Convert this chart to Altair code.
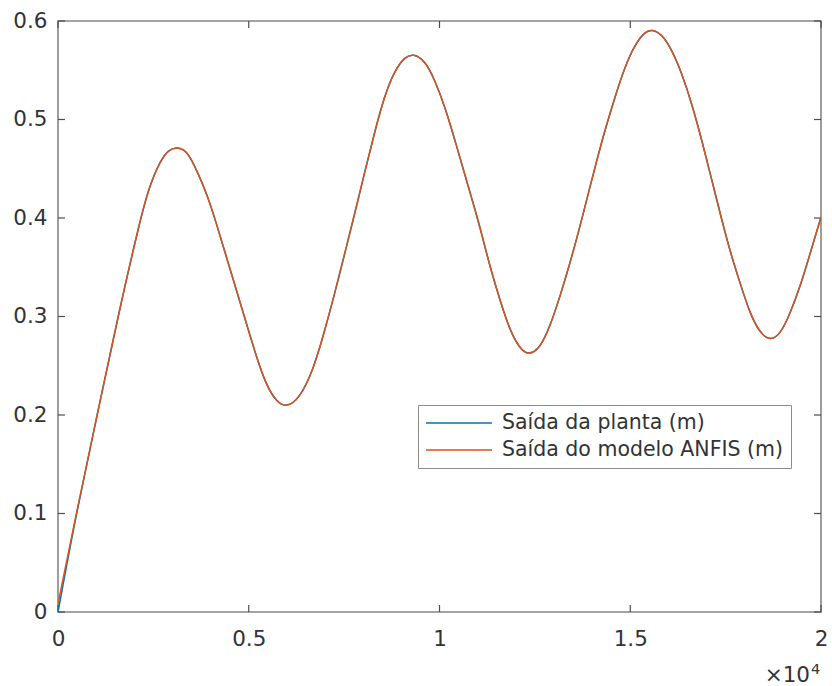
import altair as alt
import pandas as pd

# ---- data ----
t_vals = [0, 477, 1028, 1570, 2164, 2400, 2700, 2900, 3101, 3300, 3451, 3888,
          4150, 4413, 4675, 4937, 5200, 5462, 5725, 5987, 6336, 6686, 6948,
          7255, 7517, 7780, 8042, 8304, 8567, 8829, 9091, 9309, 9616, 9878,
          10141, 10403, 10665, 10862, 11059, 11321, 11583, 11846, 12108, 12327, 12632,
          12895, 13157, 13419, 13682, 13944, 14188, 14338, 14601, 14863, 15125,
          15388, 15563, 15825, 16088, 16350, 16612, 16875, 17137, 17399, 17617,
          17880, 18142, 18404, 18667, 18929, 19191, 19454, 19716, 19978, 20000]
planta = [0.000, 0.100, 0.200, 0.300, 0.400, 0.4330, 0.4595, 0.4690, 0.4720, 0.4695,
          0.464, 0.4267, 0.3946, 0.3607, 0.3269, 0.2931, 0.2592, 0.2300, 0.2135,
          0.2075, 0.2170, 0.2457, 0.2795, 0.3235, 0.3642, 0.4048, 0.4470, 0.4880,
          0.5250, 0.5500, 0.5635, 0.5668, 0.5600, 0.5401, 0.5130, 0.4792, 0.4440,
          0.4176, 0.3912, 0.3506, 0.3168, 0.2855, 0.2675, 0.2605, 0.2675, 0.2897,
          0.3201, 0.3540, 0.3912, 0.4318, 0.4680, 0.4893, 0.5232, 0.5540, 0.5765,
          0.5892, 0.5915, 0.5868, 0.5710, 0.5469, 0.5164, 0.4792, 0.4386, 0.3980,
          0.3660, 0.3337, 0.3025, 0.2830, 0.2755, 0.2815, 0.3032, 0.3303, 0.3641,
          0.3980, 0.4010]
anfis = [0.008] + planta[1:]

series_names = ["Saída da planta (m)", "Saída do modelo ANFIS (m)"]
series_colors = ["#0072BD", "#D95319"]
x_ticks = [0, 5000, 10000, 15000, 20000]
y_ticks = [0, 0.1, 0.2, 0.3, 0.4, 0.5, 0.6]
exp_base = ["×10"]
exp_power = ["4"]

W, H = 763, 591
FONT = "DejaVu Sans"
TXT = "#333333"
TICK = "#4d4d4d"

n = len(t_vals)
df = pd.DataFrame({
    "t": t_vals * 2,
    "y": planta + anfis,
    "serie": [series_names[0]] * n + [series_names[1]] * n,
})

xs = alt.Scale(domain=[0, 20000], nice=False, zero=False)
ys = alt.Scale(domain=[0, 0.6], nice=False, zero=False)

x_axis = alt.Axis(values=x_ticks, labelExpr="datum.value/10000 + ''", ticks=False,
                  tickSize=0, domain=False, grid=False, title=None, labelPadding=16,
                  labelFont=FONT, labelFontSize=21.5, labelColor=TXT, labelFlush=False)
y_axis = alt.Axis(values=y_ticks, format=".1~f", ticks=False, tickSize=0, domain=False,
                  grid=False, title=None, labelPadding=11, labelFont=FONT,
                  labelFontSize=21.5, labelColor=TXT, labelFlush=False)

lines = alt.Chart(df).mark_line(strokeWidth=1.5, interpolate="basis", clip=True).encode(
    x=alt.X("t:Q", scale=xs, axis=x_axis),
    y=alt.Y("y:Q", scale=ys, axis=y_axis),
    color=alt.Color("serie:N", sort=series_names,
                    scale=alt.Scale(domain=series_names, range=series_colors),
                    legend=alt.Legend(title=None, orient="none", legendX=360, legendY=384,
                                      symbolType="M-1,0H5.6", symbolSize=400,
                                      symbolStrokeWidth=1.5, labelFont=FONT,
                                      labelFontSize=20.5, labelColor=TXT, labelOffset=55,
                                      fillColor="white", strokeColor="#8c8c8c",
                                      padding=7, rowPadding=5, labelLimit=400)),
)

ty = pd.DataFrame({"y": y_ticks})
tx = pd.DataFrame({"t": x_ticks})
tick_len = 7
left_ticks = alt.Chart(ty).mark_rule(color=TICK, strokeWidth=1.2).encode(
    y=alt.Y("y:Q", scale=ys, axis=y_axis), x=alt.value(0), x2=alt.value(tick_len))
right_ticks = alt.Chart(ty).mark_rule(color=TICK, strokeWidth=1.2).encode(
    y=alt.Y("y:Q", scale=ys, axis=y_axis), x=alt.value(W - tick_len), x2=alt.value(W))
bottom_ticks = alt.Chart(tx).mark_rule(color=TICK, strokeWidth=1.2).encode(
    x=alt.X("t:Q", scale=xs, axis=x_axis), y=alt.value(H - tick_len), y2=alt.value(H))
top_ticks = alt.Chart(tx).mark_rule(color=TICK, strokeWidth=1.2).encode(
    x=alt.X("t:Q", scale=xs, axis=x_axis), y=alt.value(0), y2=alt.value(tick_len))

exp1 = alt.Chart(pd.DataFrame({"s": exp_base})).mark_text(
    font=FONT, fontSize=21.5, color=TXT, align="right", baseline="alphabetic"
).encode(text="s:N", x=alt.value(752), y=alt.value(661))
exp2 = alt.Chart(pd.DataFrame({"s": exp_power})).mark_text(
    font=FONT, fontSize=14.5, color=TXT, align="left", baseline="alphabetic"
).encode(text="s:N", x=alt.value(753), y=alt.value(653))

chart = alt.layer(left_ticks, right_ticks, bottom_ticks, top_ticks, lines, exp1, exp2).properties(
    width=W, height=H,
    autosize=alt.AutoSizeParams(type="none"),
    padding={"left": 58, "top": 21, "right": 11, "bottom": 74},
    background="white",
).configure_view(stroke="#858585", strokeWidth=1.6)

chart.save("out.html", embed_options={"renderer": "svg", "actions": False})
